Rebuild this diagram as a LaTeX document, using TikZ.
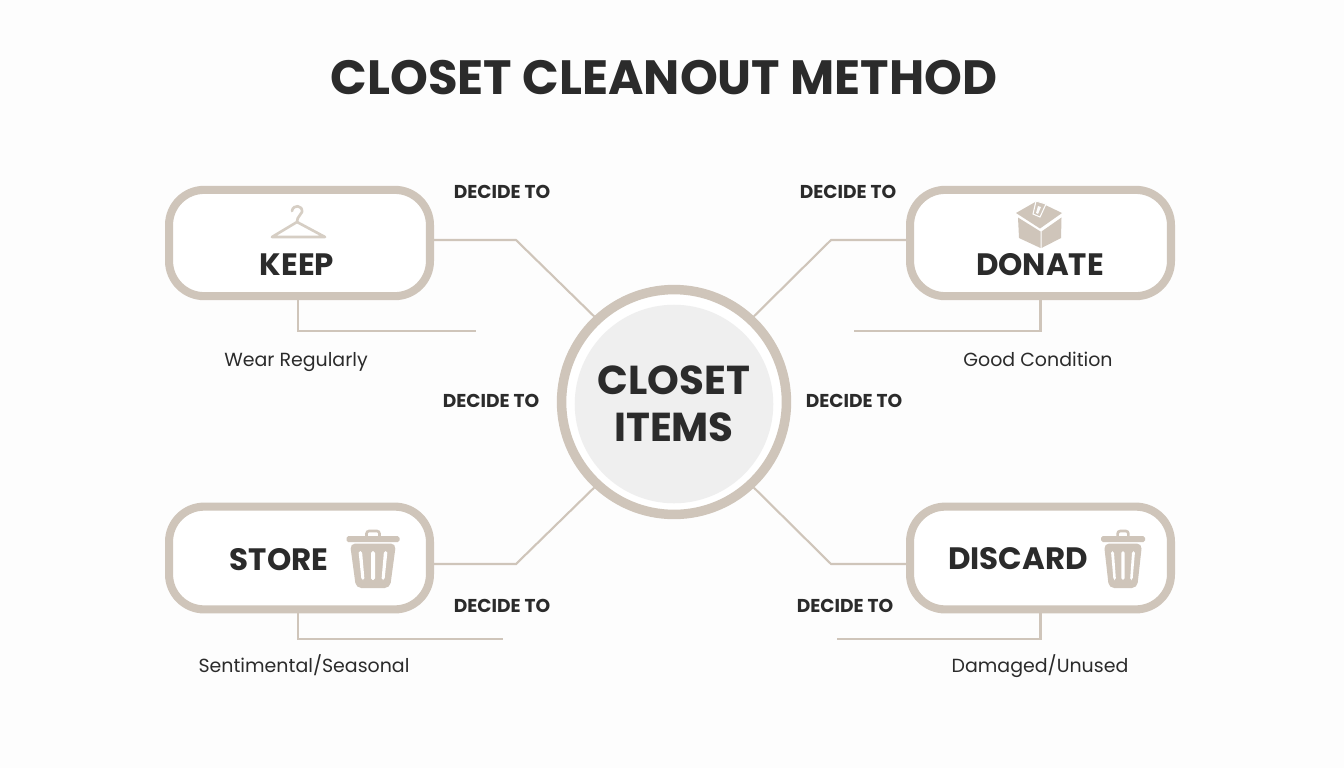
\documentclass[tikz,border=0pt]{standalone}
\usepackage{fontspec}
\usepackage{xcolor}
\setmainfont{Poppins}
\usetikzlibrary{positioning, calc}
\definecolor{taupe}{HTML}{CFC5BA}
\definecolor{ink}{HTML}{2B2B2B}
\definecolor{paper}{HTML}{FDFDFD}
\definecolor{discgray}{HTML}{EFEFEF}
\tikzset{
    choicebox/.style={draw=taupe, line width=4.6pt, rounded corners=20pt, fill=white, minimum width=148.5pt, minimum height=60.5pt},
    choicetitle/.style={font=\bfseries\fontsize{17.6}{20}\selectfont, text=ink, inner sep=0pt},
    decidelabel/.style={font=\fontsize{10.6}{12}\selectfont\bfseries, text=ink, inner sep=0pt},
    notelabel/.style={font=\fontsize{10.8}{13}\selectfont, text=ink, inner sep=0pt, anchor=base},
    link/.style={draw=taupe, line width=1.2pt},
    iconfill/.style={fill=taupe, draw=none},
    trashcan/.pic={
        \draw[taupe, line width=1.5pt, rounded corners=1.5pt] (-6.5,1) -- (-6.5,-5) -- (6.5,-5) -- (6.5,1);
        \fill[iconfill, rounded corners=1pt] (-26.5,0) rectangle (26.5,6);
        \fill[iconfill, rounded corners=3pt] (-23,7.5) -- (23,7.5) -- (17,52) -- (-17,52) -- cycle;
        \fill[white, rounded corners=1pt] (-2,15) rectangle (2,44);
        \fill[white, rounded corners=1pt] (-14.5,15) -- (-11,15) -- (-8.5,44) -- (-11.5,44) -- cycle;
        \fill[white, rounded corners=1pt] (14.5,15) -- (11,15) -- (8.5,44) -- (11.5,44) -- cycle;
    }
}

\begin{document}
\begin{tikzpicture}[x=0.02cm, y=-0.02cm]

\useasboundingbox[fill=paper] (0,0) rectangle (1344,768);

\node[font=\bfseries\fontsize{27.4}{30}\selectfont, text=ink, inner sep=0pt] (title) at (664,78) {CLOSET CLEANOUT METHOD};

% Centre circle
\node[circle, draw=taupe, line width=5.4pt, fill=white, minimum size=128pt, inner sep=0pt] (closet) at (674,402) {};
\node[circle, fill=discgray, minimum size=113pt, inner sep=0pt, align=center, text=ink, font=\bfseries\fontsize{23}{27}\selectfont] (closettext) at (674,404) {CLOSET\\ITEMS};

% Choice boxes
\node[choicebox] (keep) at (299.5,243) {};
\node[choicebox] (donate) at (1040.5,243) {};
\node[choicebox, minimum height=58.5pt] (store) at (299.5,558) {};
\node[choicebox, minimum height=58.5pt] (discard) at (1040.5,558) {};

\node[choicetitle] (keeptitle) at (297,265) {KEEP};
\node[choicetitle] (donatetitle) at (1040,265) {DONATE};
\node[choicetitle] (storetitle) at (279,560) {STORE};
\node[choicetitle] (discardtitle) at (1018,559) {DISCARD};

% Hanger
\draw[taupe!85, line width=1.5pt, line join=round, line cap=round] (292,211) .. controls (293,204) and (303,205) .. (302,212) .. controls (301,216) and (297,216) .. (297,222) -- (325,237) -- (272,237) -- (297,222);

% Ballot box
\fill[iconfill] (1016,213) -- (1037,201) -- (1062,213) -- (1040,228.5) -- cycle;
\fill[iconfill] (1018,217.5) -- (1040.5,231.5) -- (1040.5,248) -- (1019,238) -- cycle;
\fill[iconfill] (1041.5,231.5) -- (1061.5,217.5) -- (1061,238) -- (1041.5,248) -- cycle;
\fill[taupe, draw=paper, line width=0.6pt] (1036,201) -- (1046,204) -- (1040,217) -- (1033,214) -- cycle;
\fill[paper] (1038,206) -- (1041,207) -- (1038,214) -- (1036,213) -- cycle;

% Bins
\pic at (373,536) {trashcan};
\pic[xscale=0.83] at (1123,536) {trashcan};

% Links to the circle
\coordinate (kneekeep) at (516,240);
\coordinate (kneedonate) at (831,240);
\coordinate (kneestore) at (516,564);
\coordinate (kneediscard) at (831,564);
\draw[link] (keep.east |- kneekeep) -- (kneekeep) -- (closet.133);
\draw[link] (donate.west |- kneedonate) -- (kneedonate) -- (closet.47);
\draw[link] (store.east |- kneestore) -- (kneestore) -- (closet.-133);
\draw[link] (discard.west |- kneediscard) -- (kneediscard) -- (closet.-47);

% Links under the boxes
\coordinate (endkeep) at (476,331);
\coordinate (enddonate) at (854,331);
\coordinate (endstore) at (503,639);
\coordinate (enddiscard) at (837,639);
\draw[link] (keep.south -| 298,0) |- (endkeep);
\draw[link] (donate.south) |- (enddonate);
\draw[link] (store.south -| 298,0) |- (endstore);
\draw[link] (discard.south) |- (enddiscard);

% Labels
\node[decidelabel] (decideA) at (502,192) {DECIDE TO};
\node[decidelabel] (decideB) at (848,192) {DECIDE TO};
\node[decidelabel] (decideC) at (491,401) {DECIDE TO};
\node[decidelabel] (decideD) at (854,401) {DECIDE TO};
\node[decidelabel] (decideE) at (502,606) {DECIDE TO};
\node[decidelabel] (decideF) at (845,606) {DECIDE TO};

\node[notelabel] (noteA) at (296,366) {Wear Regularly};
\node[notelabel] (noteB) at (1038,366) {Good Condition};
\node[notelabel] (noteC) at (304,672) {Sentimental/Seasonal};
\node[notelabel] (noteD) at (1040,672) {Damaged/Unused};

\end{tikzpicture}
\end{document}
